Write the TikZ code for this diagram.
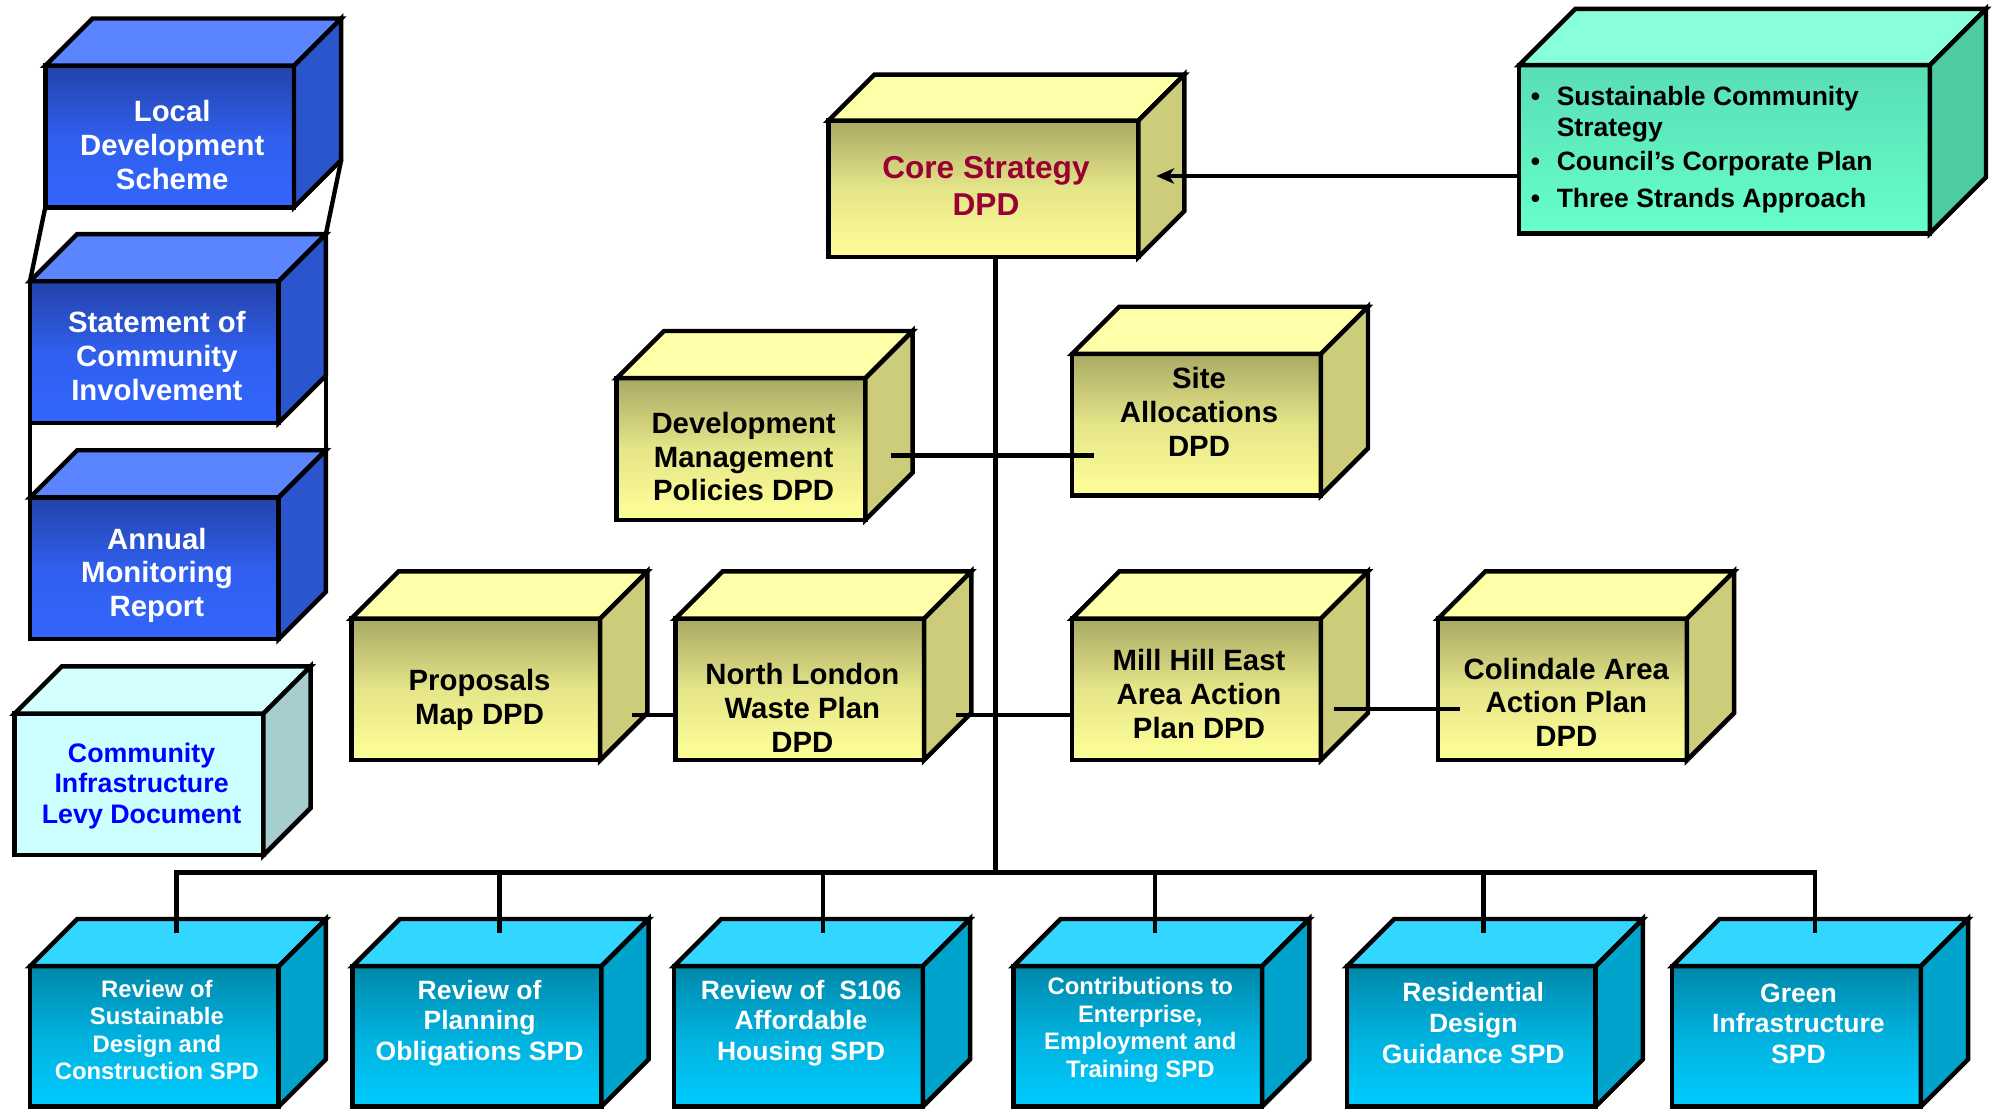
\documentclass[tikz,border=0pt]{standalone}
\usepackage{fontspec}
\setmainfont{Liberation Sans}
\usetikzlibrary{arrows.meta}
\definecolor{ldfBlue}{HTML}{3366FF}
\definecolor{ldfBlueDark}{HTML}{2443A8}
\definecolor{ldfBlueTop}{HTML}{5B84FF}
\definecolor{ldfBlueSide}{HTML}{2B55CC}
\definecolor{ldfYellow}{HTML}{FFFF99}
\definecolor{ldfOlive}{HTML}{A9A964}
\definecolor{ldfYellowTop}{HTML}{FFFFAA}
\definecolor{ldfYellowSide}{HTML}{CCCC7A}
\definecolor{ldfCyan}{HTML}{00CCFF}
\definecolor{ldfCyanDark}{HTML}{0088AA}
\definecolor{ldfCyanTop}{HTML}{33D6FF}
\definecolor{ldfCyanSide}{HTML}{00A3CC}
\definecolor{ldfMint}{HTML}{66FFCC}
\definecolor{ldfMintDark}{HTML}{59DDB5}
\definecolor{ldfMintTop}{HTML}{88FFDA}
\definecolor{ldfMintSide}{HTML}{4DCCA3}
\definecolor{ldfIce}{HTML}{CCFFFF}
\definecolor{ldfIceTop}{HTML}{D4FFFF}
\definecolor{ldfIceSide}{HTML}{A6CECE}
\definecolor{ldfLevy}{HTML}{0000FF}
\definecolor{ldfCrimson}{HTML}{990033}
\tikzset{
  face/.style={draw=black, line width=3.5pt},
  front/.style={face, rectangle, outer sep=0pt, inner sep=0pt,
    minimum width=195pt, minimum height=111pt},
  bluebox/.style={front, top color=ldfBlueDark, bottom color=ldfBlue,
    middle color=ldfBlue!80!ldfBlueDark},
  yellowbox/.style={front, top color=ldfOlive, bottom color=ldfYellow,
    middle color=ldfYellow!70!ldfOlive},
  cyanbox/.style={front, minimum height=110pt, top color=ldfCyanDark,
    bottom color=ldfCyan, middle color=ldfCyan!60!ldfCyanDark},
  mintbox/.style={front, top color=ldfMintDark, bottom color=ldfMint},
  boxtxt/.style={align=center, inner sep=0pt,
    font=\bfseries\fontsize{23}{26.5}\selectfont},
  spdtxt/.style={boxtxt, text=white, font=\bfseries\fontsize{20.8}{24}\selectfont},
  spdsmall/.style={spdtxt, font=\bfseries\fontsize{18.7}{21.5}\selectfont},
  link/.style={line width=3.4pt, draw=black},
}
% top and right faces behind a front face node #1, depth #2
\newcommand{\boxsides}[4]{%
  \draw[face, fill=#3] (#1.north west) -- ++(#2,-#2)
    -- ([shift={(#2pt,#2pt)}]#1.north east) -- (#1.north east) -- cycle;
  \draw[face, fill=#4] (#1.north east) -- ([shift={(#2pt,#2pt)}]#1.north east)
    -- ([shift={(#2pt,#2pt)}]#1.south east) -- (#1.south east) -- cycle;
}
\begin{document}
\begin{tikzpicture}[x=1pt, y=-1pt]
  \useasboundingbox (0,0) rectangle (1568,869);
  \fill[white] (0,0) rectangle (1568,869);

  % monitoring stack on the left
  \node[bluebox] (lds) at (133,107) {};
  \boxsides{lds}{37}{ldfBlueTop}{ldfBlueSide}
  \node[boxtxt, text=white] (lds-t) at (135,113.5) {Local\\Development\\Scheme};
  \node[bluebox] (sci) at (121,276) {};
  \boxsides{sci}{37}{ldfBlueTop}{ldfBlueSide}
  \node[boxtxt, text=white] (sci-t) at (123,279) {Statement of\\Community\\Involvement};
  \node[bluebox] (amr) at (121,445.5) {};
  \boxsides{amr}{37}{ldfBlueTop}{ldfBlueSide}
  \node[boxtxt, text=white] (amr-t) at (123,451) {Annual\\Monitoring\\Report};
  \node[front, fill=ldfIce] (cil) at (109,615) {};
  \boxsides{cil}{37}{ldfIceTop}{ldfIceSide}
  \node[boxtxt, text=ldfLevy, font=\bfseries\fontsize{21}{24}\selectfont] (cil-t)
    at (111,616) {Community\\Infrastructure\\Levy Document};

  \draw[link] (lds.south west) -- (sci.north west);
  \draw[link] ([shift={(37pt,37pt)}]lds.south east) -- ([shift={(37pt,37pt)}]sci.north east);
  \draw[link] (sci.south west) -- (amr.north west);
  \draw[link] ([shift={(37pt,37pt)}]sci.south east) -- ([shift={(37pt,37pt)}]amr.north east);

  % core strategy and its inputs
  \node[yellowbox, minimum width=243pt, minimum height=107pt] (core) at (771,148) {};
  \boxsides{core}{36}{ldfYellowTop}{ldfYellowSide}
  \node[boxtxt, text=ldfCrimson, font=\bfseries\fontsize{24.8}{29}\selectfont] (core-t)
    at (773,145.5) {Core Strategy\\DPD};
  \node[mintbox, minimum width=322pt, minimum height=132pt] (green) at (1352,117) {};
  \boxsides{green}{44}{ldfMintTop}{ldfMintSide}
  \node[boxtxt, anchor=west, font=\bfseries\fontsize{20.8}{24}\selectfont] (green-t)
    at (1200,118) {\begin{tabular}{@{}l@{\hspace{13pt}}l@{}}
      \textbullet & Sustainable Community\\
                  & Strategy\\[3pt]
      \textbullet & Council’s Corporate Plan\\[4.5pt]
      \textbullet & Three Strands Approach
    \end{tabular}};

  % development plan documents
  \node[yellowbox] (dmp) at (581,352) {};
  \boxsides{dmp}{37}{ldfYellowTop}{ldfYellowSide}
  \node[boxtxt] (dmp-t) at (583,358) {Development\\Management\\Policies DPD};
  \node[yellowbox] (site) at (938,333) {};
  \boxsides{site}{37}{ldfYellowTop}{ldfYellowSide}
  \node[boxtxt] (site-t) at (940,323) {Site\\Allocations\\DPD};
  \node[yellowbox] (pm) at (373,540.5) {};
  \boxsides{pm}{37}{ldfYellowTop}{ldfYellowSide}
  \node[boxtxt] (pm-t) at (376,548.5) {Proposals\\Map DPD};
  \node[yellowbox] (nl) at (627,540.5) {};
  \boxsides{nl}{37}{ldfYellowTop}{ldfYellowSide}
  \node[boxtxt] (nl-t) at (629,555) {North London\\Waste Plan\\DPD};
  \node[yellowbox] (mh) at (938,540.5) {};
  \boxsides{mh}{37}{ldfYellowTop}{ldfYellowSide}
  \node[boxtxt] (mh-t) at (940,544) {Mill Hill East\\Area Action\\Plan DPD};
  \node[yellowbox] (col) at (1225,540.5) {};
  \boxsides{col}{37}{ldfYellowTop}{ldfYellowSide}
  \node[boxtxt] (col-t) at (1228,550.5) {Colindale Area\\Action Plan\\DPD};

  % supplementary planning documents
  \node[cyanbox] (spd1) at (121,812.5) {};
  \boxsides{spd1}{37}{ldfCyanTop}{ldfCyanSide}
  \node[spdsmall] (spd1-t) at (123,807.5) {Review of\\Sustainable\\Design and\\Construction SPD};
  \node[cyanbox] (spd2) at (374,812.5) {};
  \boxsides{spd2}{37}{ldfCyanTop}{ldfCyanSide}
  \node[spdtxt] (spd2-t) at (376,802) {Review of\\Planning\\Obligations SPD};
  \node[cyanbox] (spd3) at (626,812.5) {};
  \boxsides{spd3}{37}{ldfCyanTop}{ldfCyanSide}
  \node[spdtxt] (spd3-t) at (628,802) {Review of\ \ S106\\Affordable\\Housing SPD};
  \node[cyanbox] (spd4) at (892,812.5) {};
  \boxsides{spd4}{37}{ldfCyanTop}{ldfCyanSide}
  \node[spdsmall] (spd4-t) at (894,807.5) {Contributions to\\Enterprise,\\Employment and\\Training SPD};
  \node[cyanbox] (spd5) at (1153.5,812.5) {};
  \boxsides{spd5}{37}{ldfCyanTop}{ldfCyanSide}
  \node[spdtxt] (spd5-t) at (1155,802) {Residential\\Design\\Guidance SPD};
  \node[cyanbox] (spd6) at (1408.5,812.5) {};
  \boxsides{spd6}{37}{ldfCyanTop}{ldfCyanSide}
  \node[spdtxt] (spd6-t) at (1410,802.5) {Green\\Infrastructure\\SPD};

  % hierarchy lines
  \coordinate (hub) at (780.5,684);
  \draw[link] ([xshift=9.5pt]core.south) -- (hub);
  \foreach \b/\dx in {spd1/17.5, spd2/17.5, spd3/19, spd4/13.5, spd5/9.5, spd6/14.5}
    \draw[link] ([xshift=\dx pt, yshift=26pt]\b.north) |- (hub);
  \draw[link] ([xshift=20pt,yshift=-5pt]dmp.east) -- ([xshift=17pt,yshift=-24pt]site.west);
  \draw[link] ([xshift=25pt,yshift=-20pt]pm.east) -- ([yshift=-20pt]nl.west);
  \draw[link] ([xshift=25pt,yshift=-20pt]nl.east) -- ([yshift=-20pt]mh.west);
  \draw[link] ([xshift=10pt,yshift=-15.5pt]mh.east) -- ([xshift=17pt,yshift=-15.5pt]col.west);
  \draw[link, -{Stealth[length=14pt, width=12pt, inset=4pt]}]
    ([yshift=-21pt]green.west) -- ([xshift=14pt,yshift=10pt]core.east);
\end{tikzpicture}
\end{document}
